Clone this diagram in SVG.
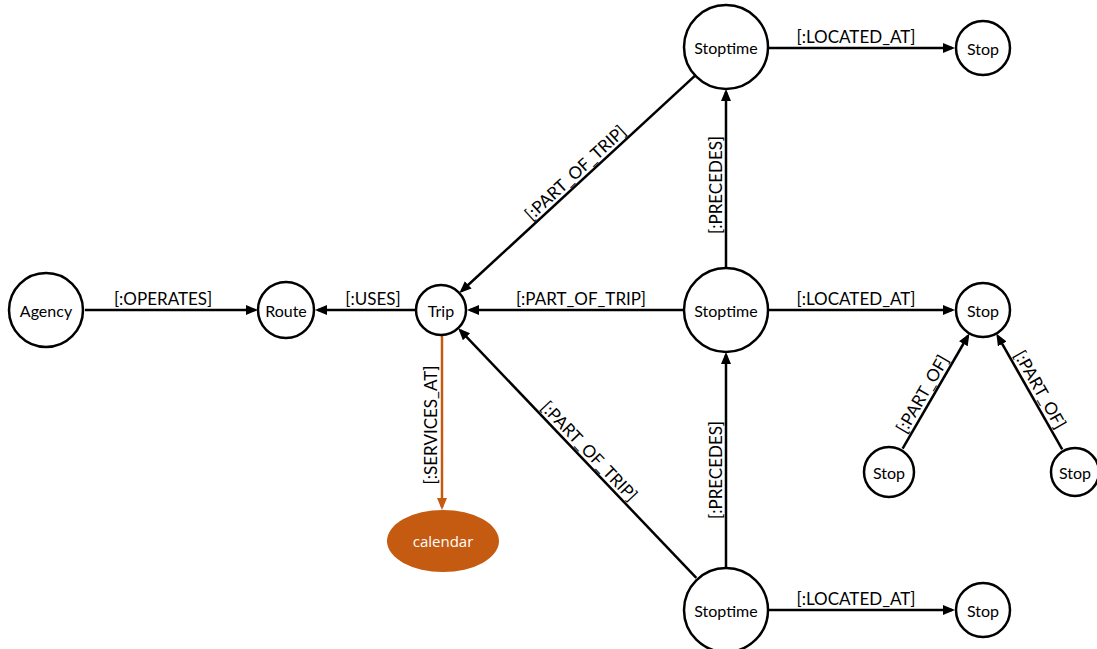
<svg xmlns="http://www.w3.org/2000/svg" width="1097" height="649" viewBox="0 0 1097 649">
  <style>
    .node circle { fill: #ffffff; stroke: #000000; stroke-width: 2.5; }
    .node text { font-family: Lato, "Liberation Sans", sans-serif; font-size: 16px; fill: #000000; text-anchor: middle; dominant-baseline: central; }
    .edge { stroke: #000000; stroke-width: 2.5; fill: none; marker-end: url(#arrow); }
    .edge.orange { stroke: #C55A11; marker-end: url(#arrow-orange); }
    .label { font-family: Lato, "Liberation Sans", sans-serif; font-size: 17px; fill: #000000; text-anchor: middle; }
    #calendar ellipse { fill: #C55A11; }
    #calendar text { font-family: "Open Sans", "Liberation Sans", sans-serif; font-size: 15px; fill: #ffffff; text-anchor: middle; dominant-baseline: central; }
  </style>
  <defs>
    <marker id="arrow" markerUnits="userSpaceOnUse" markerWidth="13" markerHeight="11" refX="9" refY="5" orient="auto">
      <path d="M0,0 L12,5 L0,10 z" fill="#000000"/>
    </marker>
    <marker id="arrow-orange" markerUnits="userSpaceOnUse" markerWidth="13" markerHeight="11" refX="9" refY="5" orient="auto">
      <path d="M0,0 L12,5 L0,10 z" fill="#C55A11"/>
    </marker>
  </defs>

  <rect width="1097" height="649" fill="#ffffff"/>

  <!-- relationships -->
  <g id="connectors">
    <line class="edge" x1="85" y1="310" x2="255" y2="310"/>
    <line class="edge" x1="415" y1="310" x2="318" y2="310"/>
    <line class="edge" x1="685" y1="310" x2="470" y2="310"/>
    <line class="edge" x1="768" y1="48" x2="952" y2="48"/>
    <line class="edge" x1="768" y1="310" x2="952" y2="310"/>
    <line class="edge" x1="768" y1="610" x2="952" y2="610"/>
    <line class="edge" x1="726" y1="268" x2="726" y2="92"/>
    <line class="edge" x1="726" y1="568" x2="726" y2="355"/>
    <line class="edge" x1="695.9" y1="74.8" x2="461.6" y2="291"/>
    <line class="edge" x1="696.3" y1="577.9" x2="460.3" y2="330.3"/>
    <line class="edge orange" x1="442" y1="336" x2="442" y2="507"/>
    <line class="edge" x1="902.6" y1="448.6" x2="967.9" y2="336"/>
    <line class="edge" x1="1062.2" y1="449.4" x2="997.8" y2="336.1"/>

    <text class="label" x="163" y="305">[:OPERATES]</text>
    <text class="label" x="373" y="305">[:USES]</text>
    <text class="label" x="581" y="305">[:PART_OF_TRIP]</text>
    <text class="label" x="856" y="43">[:LOCATED_AT]</text>
    <text class="label" x="856" y="305">[:LOCATED_AT]</text>
    <text class="label" x="856" y="605">[:LOCATED_AT]</text>
    <text class="label" transform="translate(722,185) rotate(-90)">[:PRECEDES]</text>
    <text class="label" transform="translate(722,470) rotate(-90)">[:PRECEDES]</text>
    <text class="label" transform="translate(437,425) rotate(-90)">[:SERVICES_AT]</text>
    <text class="label" transform="translate(582,180) rotate(-42.7)" y="-4">[:PART_OF_TRIP]</text>
    <text class="label" transform="translate(582,458) rotate(46.4)" y="-4">[:PART_OF_TRIP]</text>
    <text class="label" transform="translate(931,399) rotate(-59.9)" y="-4">[:PART_OF]</text>
    <text class="label" transform="translate(1031.5,394.5) rotate(60.4)" y="-4">[:PART_OF]</text>
  </g>

  <!-- nodes -->
  <g id="agency" class="node"><circle cx="46" cy="310" r="37"/><text x="46" y="310">Agency</text></g>
  <g id="route" class="node"><circle cx="286" cy="310" r="28"/><text x="286" y="310">Route</text></g>
  <g id="trip" class="node"><circle cx="441" cy="310" r="25"/><text x="441" y="310">Trip</text></g>
  <g id="stoptime-1" class="node"><circle cx="726" cy="47" r="42"/><text x="726" y="47">Stoptime</text></g>
  <g id="stoptime-2" class="node"><circle cx="726" cy="310" r="42"/><text x="726" y="310">Stoptime</text></g>
  <g id="stoptime-3" class="node"><circle cx="726" cy="610" r="42"/><text x="726" y="610">Stoptime</text></g>
  <g id="stop-1" class="node"><circle cx="983" cy="48" r="27"/><text x="983" y="48">Stop</text></g>
  <g id="stop-2" class="node"><circle cx="983" cy="310" r="27"/><text x="983" y="310">Stop</text></g>
  <g id="stop-3" class="node"><circle cx="983" cy="610" r="27"/><text x="983" y="610">Stop</text></g>
  <g id="stop-4" class="node"><circle cx="889" cy="472" r="25"/><text x="889" y="472">Stop</text></g>
  <g id="stop-5" class="node"><circle cx="1075" cy="472" r="24"/><text x="1075" y="472">Stop</text></g>
  <g id="calendar"><ellipse cx="443" cy="541" rx="56" ry="31"/><text x="443" y="541">calendar</text></g>
</svg>
